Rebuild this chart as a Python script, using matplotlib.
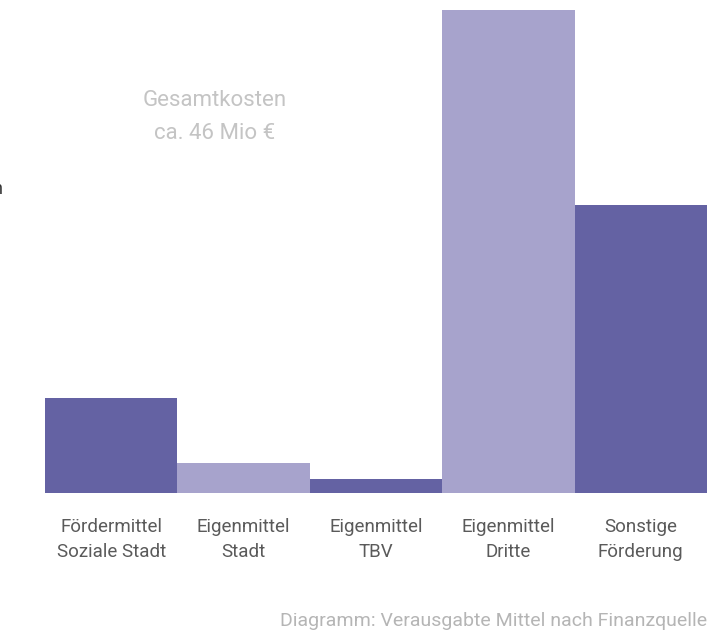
import numpy as np
import matplotlib.pyplot as plt

# Daten (Mio €, aus dem Bild geschätzt)
kategorien = ['Fördermittel\nSoziale Stadt', 'Eigenmittel\nStadt', 'Eigenmittel\nTBV',
              'Eigenmittel\nDritte', 'Sonstige\nFörderung']
werte = [4.8, 1.5, 0.7, 24.5, 14.6]
farben = ['#6462a3', '#a7a3cc', '#6462a3', '#a7a3cc', '#6462a3']

plt.rcParams['font.family'] = ['Roboto', 'DejaVu Sans']

W, H = 724, 634
fig = plt.figure(figsize=(W / 100, H / 100), dpi=100)
ax = fig.add_axes([45 / W, (H - 493) / H, (707 - 45) / W, (493 - 10) / H])

x = np.arange(len(werte))
ax.bar(x, werte, width=1.0, color=farben, edgecolor='none')
ax.set_xlim(-0.5, len(werte) - 0.5)
ax.set_ylim(0, max(werte))
ax.axis('off')

# Kategorien unter den Balken
for i, k in enumerate(kategorien):
    ax.text(i, -(518 - 493) / 483 * max(werte), k, ha='center', va='top', fontsize=13.5,
            color='#5a5a5a', linespacing=1.5, transform=ax.transData)

# Gesamtkosten
fig.text(215 / W, 1 - 117 / H, 'Gesamtkosten\nca. 46 Mio €', ha='center', va='center',
         fontsize=16, color='#c4c4c4', linespacing=1.75)

# abgeschnittener Text am linken Rand
fig.text(-7 / W, 1 - 189 / H, 'n', ha='left', va='center', fontsize=13, color='#333333')

# Unterschrift
fig.text(707 / W, 1 - 621 / H, 'Diagramm: Verausgabte Mittel nach Finanzquelle',
         ha='right', va='center', fontsize=14, color='#b5b5b5')

fig.savefig('out.png', dpi=100)
